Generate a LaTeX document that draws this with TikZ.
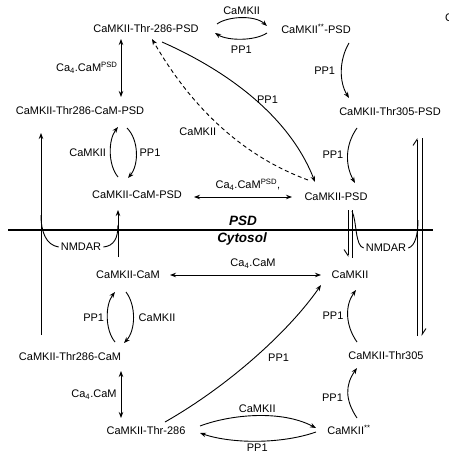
\documentclass[tikz,border=0pt]{standalone}
\usepackage{fontspec}
\setmainfont{Liberation Sans}
\usetikzlibrary{arrows.meta}

\begin{document}
\begin{tikzpicture}[x=1pt, y=-1pt, inner sep=2pt, font=\fontsize{11}{13}\selectfont]
    % Define styles
    \tikzstyle{species} = [inner sep=2pt]
    \tikzstyle{compartment} = [font=\fontsize{13.5}{15}\selectfont\bfseries\itshape, inner sep=1pt]
    \tikzstyle{line} = [line width=0.9pt]
    \tikzstyle{arrow} = [-{Stealth[length=6pt, width=4.5pt]}, line width=0.9pt]
    \tikzstyle{both} = [{Stealth[length=6pt, width=4.5pt]}-{Stealth[length=6pt, width=4.5pt]}, line width=0.9pt]
    \tikzstyle{barbup} = [-{Straight Barb[left, length=6pt, width=8pt]}, line width=0.9pt]
    \tikzstyle{barbdown} = [-{Straight Barb[right, length=6pt, width=8pt]}, line width=0.9pt]
    \tikzstyle{membrane} = [line width=1.6pt]
    \useasboundingbox (0,0) rectangle (448,455);

    % Nodes
    \node[species] (t286psd) at (146,29) {CaMKII-Thr-286-PSD};
    \node[species] (dpsd) at (316,29) {CaMKII\textsuperscript{**}-PSD};
    \node[species] (t286campsd) at (80,111) {CaMKII-Thr286-CaM-PSD};
    \node[species] (t305psd) at (390,112) {CaMKII-Thr305-PSD};
    \node[species] (campsd) at (137,195) {CaMKII-CaM-PSD};
    \node[species] (psd) at (336,197) {CaMKII-PSD};
    \node[species] (cam) at (128,275) {CaMKII-CaM};
    \node[species] (k) at (350,275) {CaMKII};
    \node[species] (t286cam) at (70,357) {CaMKII-Thr286-CaM};
    \node[species] (t305) at (386,356) {CaMKII-Thr305};
    \node[species] (t286) at (146,431) {CaMKII-Thr-286};
    \node[species] (d) at (349,430) {CaMKII\textsuperscript{**}};
    \node[compartment] (lpsd) at (243,221) {PSD};
    \node[compartment] (lcyt) at (242,239) {Cytosol};
    \node (nmdarl) at (81,247) {NMDAR};
    \node (nmdarr) at (386,248) {NMDAR};
    \node (panel) at (449,18) {C};
    \coordinate (lbot) at (41,335);
    \coordinate (ltop) at (41,133);
    \coordinate (rbot) at (419.5,336);
    \coordinate (rtop) at (419.5,138);

    % Membrane
    \draw[membrane] (8,230) -- (433,230);

    % Connections
    \draw[arrow] ([shift={(71,-5)}]t286psd.center) .. controls (228,16) and (255,15) .. ([shift={(-49,-3)}]dpsd.center) node[midway, above=1pt] {CaMKII};
    \draw[arrow] ([shift={(-49,4)}]dpsd.center) .. controls (255,41) and (228,41) .. ([shift={(69,4)}]t286psd.center) node[midway, below=4pt] {PP1};
    \draw[both] ([shift={(-25,10)}]t286psd.center) -- ([shift={(41,-14)}]t286campsd.center) node[midway, left=1pt] {Ca\textsubscript{4}.CaM\textsuperscript{PSD}};
    \draw[arrow] ([shift={(33,14)}]dpsd.center) .. controls (339,60) and (339,82) .. ([shift={(-41,-14)}]t305psd.center) node[midway, left=4pt] {PP1};
    \draw[arrow] ([shift={(-33,16)}]t305psd.center) .. controls (345,145) and (345,165) .. ([shift={(19,-14)}]psd.center) node[midway, left=2pt] {PP1};
    \draw[arrow] ([shift={(16,13)}]t286psd.center) .. controls (230,72) and (290,118) .. ([shift={(-21,-15)}]psd.center) node[midway, right=0pt] {PP1};
    \draw[arrow, dash pattern=on 4pt off 3pt] ([shift={(-28,-17)}]psd.center) .. controls (240,155) and (190,105) .. ([shift={(6,10)}]t286psd.center) node[pos=.45, left=8pt] {CaMKII};
    \draw[both] ([shift={(57,2)}]campsd.center) -- ([shift={(-44,0)}]psd.center) node[pos=.55, above=4pt] {Ca\textsubscript{4}.CaM\textsuperscript{PSD},};
    \draw[arrow] ([shift={(-19,-18)}]campsd.center) .. controls (108,165) and (108,140) .. ([shift={(38,16)}]t286campsd.center) node[midway, left=2pt] {CaMKII};
    \draw[arrow] ([shift={(47,17)}]t286campsd.center) .. controls (139,140) and (139,165) .. ([shift={(-9,-17)}]campsd.center) node[midway, right=1pt] {PP1};

    \draw[arrow] (lbot) -- (ltop);
    \draw[arrow] ([shift={(-10,-18)}]cam.center) -- ([shift={(-19,15)}]campsd.center);
    \draw[line] (nmdarl.west) .. controls (46,245) and (41,232) .. ([shift={(-40,-32)}]nmdarl.center);
    \draw[line] (nmdarl.east) .. controls (114,246) and (118,238) .. ([shift={(37,-22)}]nmdarl.center);
    \draw[barbdown] ([shift={(12,13)}]psd.center) -- ([shift={(-2,-18)}]k.center);
    \draw[line] ([shift={(2,-17)}]k.center) -- ([shift={(16,13)}]psd.center);
    \draw[line] (nmdarr.west) .. controls (355,246) and (357,222) .. ([shift={(16,14)}]psd.center);
    \draw[line] (nmdarr.east) .. controls (415,246) and (418,235) .. ([shift={(32,-28)}]nmdarr.center);
    \draw[barbup] ([xshift=-2.5pt]rbot) -- ([xshift=-2.5pt]rtop);
    \draw[barbup] ([xshift=2.5pt]rtop) -- ([xshift=2.5pt]rbot);

    \draw[both] ([shift={(42,0)}]cam.center) -- ([shift={(-29,0)}]k.center) node[pos=.55, above=4pt] {Ca\textsubscript{4}.CaM};
    \draw[arrow] ([shift={(45,-15)}]t286cam.center) .. controls (105,330) and (105,305) .. ([shift={(-13,17)}]cam.center) node[midway, left=1pt] {PP1};
    \draw[arrow] ([shift={(-2,17)}]cam.center) .. controls (136,305) and (136,330) .. ([shift={(54,-14)}]t286cam.center) node[midway, right=3pt] {CaMKII};
    \draw[both] ([shift={(51,14)}]t286cam.center) -- ([shift={(-25,-13)}]t286.center) node[midway, left=2pt] {Ca\textsubscript{4}.CaM};
    \draw[arrow] ([shift={(54,-5)}]t286.center) .. controls (232,414) and (282,410) .. ([shift={(-33,-2)}]d.center) node[midway, above=1pt] {CaMKII};
    \draw[arrow] ([shift={(-33,2)}]d.center) .. controls (282,444) and (232,444) .. ([shift={(54,2)}]t286.center) node[midway, below=0pt] {PP1};
    \draw[arrow] ([shift={(8,-12)}]d.center) .. controls (345,400) and (345,385) .. ([shift={(-29,12)}]t305.center) node[pos=.4, left=3pt] {PP1};
    \draw[arrow] ([shift={(-29,-14)}]t305.center) .. controls (345,325) and (345,305) .. ([shift={(6,15)}]k.center) node[midway, left=2pt] {PP1};
    \draw[arrow] ([shift={(19,-9)}]t286.center) .. controls (230,385) and (290,330) .. ([shift={(-29,10)}]k.center) node[pos=.55, below right=2pt] {PP1};
\end{tikzpicture}
\end{document}
